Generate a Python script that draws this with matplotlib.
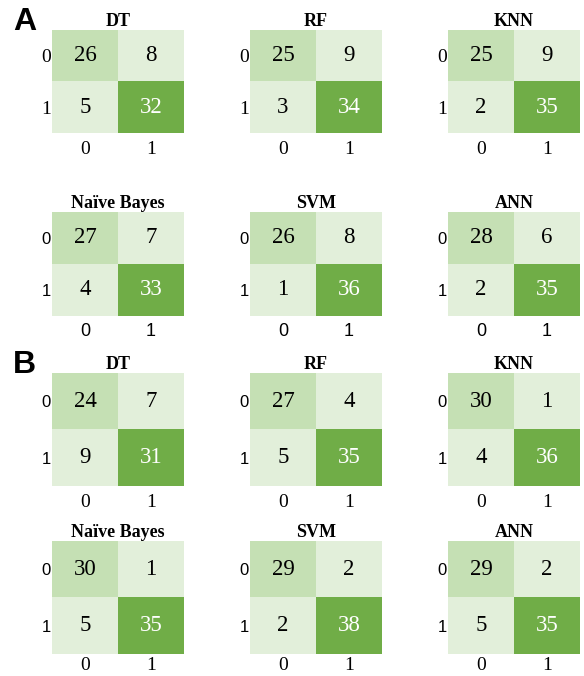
import matplotlib
matplotlib.use("Agg")
import matplotlib.pyplot as plt
from matplotlib.colors import ListedColormap
import numpy as np

# Classifier names, in panel order (row by row)
models = ["DT", "RF", "KNN", "Naïve Bayes", "SVM", "ANN"]
class_labels = ["0", "1"]

# Confusion matrices, set A
cm_A = [
    [[26, 8], [5, 32]],
    [[25, 9], [3, 34]],
    [[25, 9], [2, 35]],
    [[27, 7], [4, 33]],
    [[26, 8], [1, 36]],
    [[28, 6], [2, 35]],
]
# Confusion matrices, set B
cm_B = [
    [[24, 7], [9, 31]],
    [[27, 4], [5, 35]],
    [[30, 1], [4, 36]],
    [[30, 1], [5, 35]],
    [[29, 2], [2, 38]],
    [[29, 2], [5, 35]],
]

# Cell shading by position: 0 = off-diagonal, 1 = true negative, 2 = true positive
tone = np.array([[1, 0], [0, 2]])
cell_cmap = ListedColormap(["#e2efda", "#c5e0b4", "#70ad47"])

SERIF = "Liberation Serif"
SANS = "Liberation Sans"

fig = plt.figure(figsize=(5.84, 6.76), dpi=100)
W, H = 584.0, 676.0

col_x = [52, 250, 448]
col_w = 132
# (top, bottom) pixel rows of the four matrix rows
row_y = [(30, 133), (212, 316), (373, 486), (541, 654)]

# tick label font per row: (x ticks, y ticks)
row_tick_fonts = [
    (SERIF, SERIF),
    (SANS, SANS),
    (SERIF, SANS),
    (SERIF, SANS),
]
row_xpad = [6, 5, 6, 2]

sets = [cm_A, cm_B]
for s, cms in enumerate(sets):
    for i, (name, cm) in enumerate(zip(models, cms)):
        r = s * 2 + i // 3
        c = i % 3
        top, bot = row_y[r]
        ax = fig.add_axes([col_x[c] / W, 1 - bot / H, col_w / W, (bot - top) / H])
        ax.imshow(tone, cmap=cell_cmap, vmin=-0.5, vmax=2.5, aspect="auto",
                  interpolation="nearest")
        m = np.array(cm)
        for a in range(2):
            for b in range(2):
                ax.text(b, a, str(m[a, b]), ha="center", va="center",
                        fontsize=16.5, family=SERIF,
                        color="white" if tone[a, b] == 2 else "black")
        ax.set_title(name, fontsize=13, fontweight="bold", family=SERIF, pad=2.5)
        xf, yf = row_tick_fonts[r]
        ax.set_xticks([0, 1])
        ax.set_yticks([0, 1])
        ax.set_xticklabels(class_labels, family=xf,
                           fontsize=14 if xf == SERIF else 13)
        ax.set_yticklabels(class_labels, family=yf,
                           fontsize=14 if yf == SERIF else 12)
        ax.tick_params(axis="x", length=0, pad=row_xpad[r])
        ax.tick_params(axis="y", length=0, pad=1)
        for sp in ax.spines.values():
            sp.set_visible(False)

fig.text(13 / W, 1 - 7 / H, "A", ha="left", va="top", fontsize=23,
         fontweight="bold", family=SANS)
fig.text(13 / W, 1 - 350 / H, "B", ha="left", va="top", fontsize=23,
         fontweight="bold", family=SANS)

fig.savefig("out.png", dpi=100)
